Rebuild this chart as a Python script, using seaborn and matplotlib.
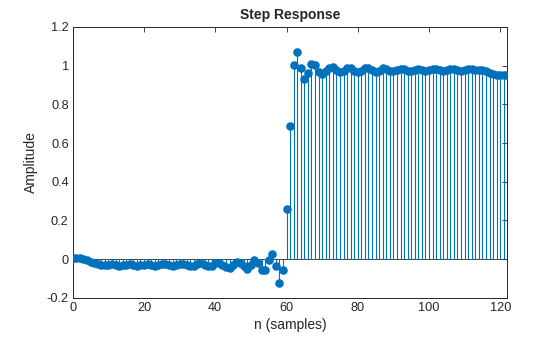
import numpy as np
import pandas as pd
import matplotlib
matplotlib.use("Agg")
import matplotlib.pyplot as plt
import seaborn as sns

# ---- data ----
n = list(range(0, 123))
amp_pre = [0.005, 0.006, 0.005, 0.003, -0.003,
           -0.012, -0.02, -0.027, -0.03, -0.03,
           -0.028, -0.027, -0.03, -0.033, -0.032, -0.028, -0.027, -0.03, -0.034, -0.032,
           -0.028, -0.027, -0.03, -0.033, -0.031, -0.027, -0.026, -0.03, -0.034, -0.031,
           -0.026, -0.025, -0.03, -0.036, -0.033, -0.025, -0.022, -0.028, -0.035, -0.033,
           -0.022, -0.018, -0.028, -0.04, -0.045, -0.03, -0.015, -0.02, -0.035, -0.05,
           -0.03, -0.003, -0.02, -0.055, -0.055, -0.002, 0.028, -0.035, -0.125, -0.055]
amp_post = [0.26, 0.69, 1.005, 1.07, 0.99, 0.93, 0.96, 1.01, 1.005, 0.965,
            0.955, 0.97, 0.99, 0.995, 0.98, 0.968, 0.972, 0.99, 0.99, 0.975,
            0.965, 0.975, 0.988, 0.99, 0.978, 0.968, 0.975, 0.986, 0.985, 0.975,
            0.97, 0.978, 0.983, 0.982, 0.975, 0.972, 0.978, 0.982, 0.978, 0.972,
            0.976, 0.982, 0.982, 0.978, 0.975, 0.978, 0.983, 0.982, 0.977, 0.975,
            0.978, 0.982, 0.983, 0.98, 0.976, 0.978, 0.97, 0.96, 0.955, 0.953,
            0.953, 0.952, 0.953]
amplitude = amp_pre + amp_post

x_ticks = [0, 20, 40, 60, 80, 100, 120]
y_ticks = [-0.2, 0, 0.2, 0.4, 0.6, 0.8, 1.0, 1.2]
y_tick_labels = ["-0.2", "0", "0.2", "0.4", "0.6", "0.8", "1", "1.2"]

title = "Step Response"
xlabel = "n (samples)"
ylabel = "Amplitude"

df = pd.DataFrame({"n": n, "amp": amplitude})

# ---- plot ----
sns.set_theme(style="white")
plt.rcParams["font.family"] = ["Liberation Sans", "DejaVu Sans"]

blue = "#0072BD"
dark = "#262626"

fig = plt.figure(figsize=(5.6, 3.37), dpi=100)
ax = fig.add_axes([0.130, 0.116, 0.776, 0.804])

ax.vlines(df["n"], 0, df["amp"], color=blue, linewidth=0.8, zorder=2)
ax.axhline(0, color=dark, linewidth=0.6, zorder=1)
sns.scatterplot(data=df, x="n", y="amp", ax=ax, color=blue, s=38,
                linewidth=0, zorder=3, legend=False)

ax.set_xlim(0, 122)
ax.set_ylim(-0.2, 1.2)
ax.set_xticks(x_ticks)
ax.set_xticklabels([str(t) for t in x_ticks])
ax.set_yticks(y_ticks)
ax.set_yticklabels(y_tick_labels)

ax.tick_params(direction="in", length=3.5, width=0.6, colors=dark,
               labelsize=9.2, top=True, right=True, pad=3)
ax.tick_params(axis="both", labelcolor=dark)
for sp in ax.spines.values():
    sp.set_visible(True)
    sp.set_color(dark)
    sp.set_linewidth(0.7)

ax.set_xlabel(xlabel, fontsize=10, color=dark, labelpad=3)
ax.set_ylabel(ylabel, fontsize=10, color=dark, labelpad=6)
ax.set_title(title, fontsize=10, fontweight="bold", color=dark, pad=6)

fig.savefig("out.png", dpi=100)
